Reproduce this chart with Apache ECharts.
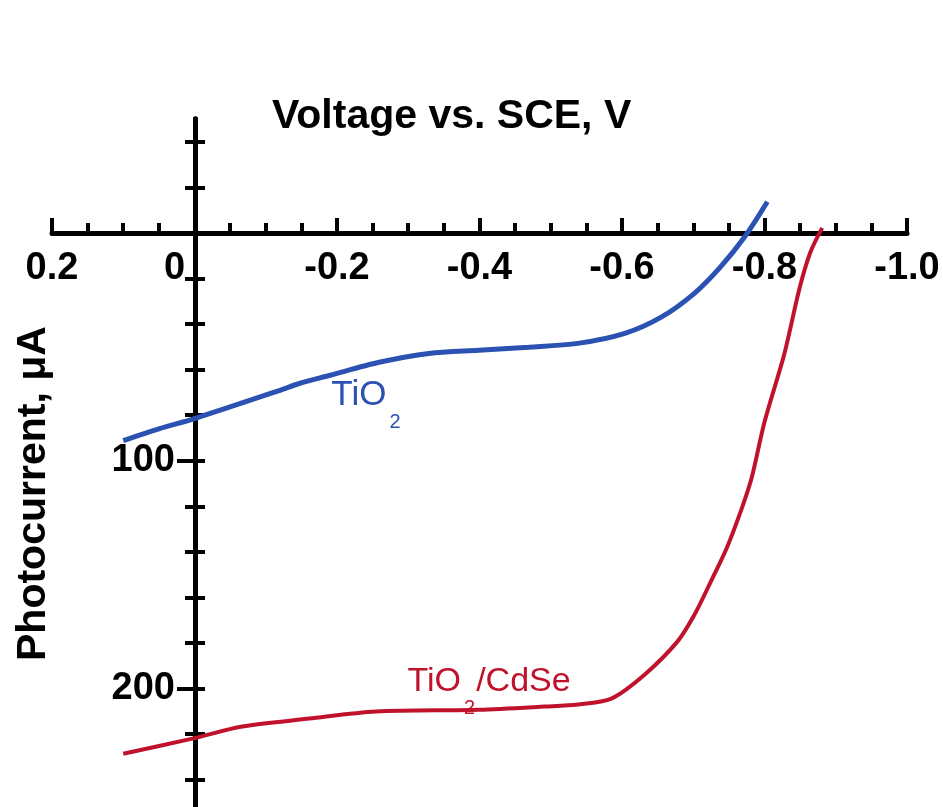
<!DOCTYPE html>
<html>
<head>
<meta charset="utf-8">
<script src="https://cdn.jsdelivr.net/npm/echarts@6/dist/echarts.min.js"></script>
<style>
html, body { margin: 0; padding: 0; background: #fff; }
#chart { width: 943px; height: 807px; }
</style>
</head>
<body>
<div id="chart"></div>
<script>
// 数据
var tio2Voltage = [0.100, 0.049, 0.000, -0.119, -0.147, -0.189, -0.259, -0.329, -0.399, -0.469, -0.538, -0.604, -0.655, -0.702, -0.738, -0.772, -0.804];
var tio2Current = [91.2, 85.9, 81.5, 69.2, 66.1, 62.6, 56.8, 52.9, 51.5, 50.2, 48.5, 44.1, 37.0, 26.4, 15.0, 1.8, -13.7];

var cdseVoltage = [0.100, 0.003, -0.067, -0.161, -0.255, -0.399, -0.492, -0.538, -0.585, -0.632, -0.678, -0.702, -0.724, -0.747, -0.768, -0.782, -0.800, -0.828, -0.849, -0.864, -0.881];
var cdseCurrent = [228.6, 222.0, 216.7, 213.2, 210.1, 209.3, 207.9, 207.0, 204.4, 193.8, 179.3, 167.4, 153.5, 138.3, 121.0, 107.5, 83.0, 52.9, 24.5, 8.8, -2.2];

var yMinorTicks = [-40, -20, 20, 40, 60, 80, 120, 140, 160, 180, 220, 240];
var yMajorTicks = [100, 200];

var X_MIN = -1.0, X_MAX = 0.2;
var Y_MIN = -50, Y_MAX = 252;

var BLUE = '#2b52b2';
var RED = '#c0122a';
var FONT = 'Liberation Sans, Arial, sans-serif';

function pairs(xs, ys) {
    var out = [];
    for (var i = 0; i < xs.length; i++) {
        out.push([xs[i], ys[i]]);
    }
    return out;
}

function hiddenX(grid) {
    return { type: 'value', gridIndex: grid, show: false, inverse: true, min: X_MIN, max: X_MAX,
             axisLine: { onZero: false }, splitLine: { show: false } };
}
function hiddenY(grid) {
    return { type: 'value', gridIndex: grid, show: false, inverse: true, min: Y_MIN, max: Y_MAX,
             axisLine: { onZero: false }, splitLine: { show: false } };
}
// 可见的y轴（放在 x=0 处）
function visY(tick, label) {
    return {
        type: 'value', gridIndex: 2, position: 'left', inverse: true, min: Y_MIN, max: Y_MAX,
        axisLine: { show: true, onZero: false, lineStyle: { color: '#000', width: 5 } },
        splitLine: { show: false },
        axisTick: tick,
        axisLabel: label || { show: false }
    };
}

var myChart = echarts.init(document.getElementById('chart'));

var option = {
    animation: false,
    backgroundColor: '#fff',
    grid: [
        // 数据区
        { left: 52, right: 36, top: 119, bottom: 0, containLabel: false, outerBoundsMode: 'none' },
        // x轴所在（底边在 y=0）
        { left: 52, right: 36, top: 119, height: 114, containLabel: false, outerBoundsMode: 'none' },
        // y轴所在（左边在 x=0）
        { left: 195, width: 1, top: 119, bottom: 0, containLabel: false, outerBoundsMode: 'none' }
    ],
    xAxis: [
        hiddenX(0),
        {
            type: 'value',
            gridIndex: 1,
            position: 'bottom',
            inverse: true,
            min: X_MIN,
            max: X_MAX,
            interval: 0.2,
            axisLine: { onZero: false, lineStyle: { color: '#000', width: 5 } },
            axisTick: { inside: true, length: 15, lineStyle: { color: '#000', width: 4 } },
            minorTick: { show: true, splitNumber: 4, length: 10, lineStyle: { color: '#000', width: 4 } },
            splitLine: { show: false },
            minorSplitLine: { show: false },
            axisLabel: {
                margin: 17,
                color: '#000',
                fontSize: 38,
                fontWeight: 'bold',
                fontFamily: FONT,
                formatter: function (v) {
                    if (Math.abs(v) < 1e-9) return '{z|0}';
                    return v.toFixed(1);
                },
                rich: {
                    z: { fontSize: 38, fontWeight: 'bold', fontFamily: FONT, color: '#000', padding: [0, 40, 0, 0] }
                }
            }
        },
        hiddenX(2)
    ],
    yAxis: [
        hiddenY(0),
        hiddenY(1),
        // 左侧小刻度 + 标签
        visY({ show: true, inside: false, length: 10, customValues: yMinorTicks, lineStyle: { color: '#000', width: 4 } },
             { show: true, margin: 20, customValues: yMajorTicks, color: '#000', fontSize: 38, fontWeight: 'bold', fontFamily: FONT }),
        // 右侧刻度
        visY({ show: true, inside: true, length: 10, customValues: yMinorTicks.concat(yMajorTicks), lineStyle: { color: '#000', width: 4 } }),
        // 大刻度（左侧更长）
        visY({ show: true, inside: false, length: 18, customValues: yMajorTicks, lineStyle: { color: '#000', width: 4 } })
    ],
    series: [
        {
            name: 'TiO2',
            type: 'line',
            xAxisIndex: 0,
            yAxisIndex: 0,
            showSymbol: false,
            smooth: 0.3,
            lineStyle: { color: BLUE, width: 5 },
            data: pairs(tio2Voltage, tio2Current),
            z: 5
        },
        {
            name: 'TiO2/CdSe',
            type: 'line',
            xAxisIndex: 0,
            yAxisIndex: 0,
            showSymbol: false,
            smooth: 0.3,
            lineStyle: { color: RED, width: 4 },
            data: pairs(cdseVoltage, cdseCurrent),
            z: 5
        }
    ]
};

myChart.setOption(option);

// 文字标注
var p1 = myChart.convertToPixel({ gridIndex: 0 }, [-0.192, 65]);
var p2 = myChart.convertToPixel({ gridIndex: 0 }, [-0.299, 190]);

function chem(main, after, color, size) {
    return {
        text: '{a|' + main + '}{b|2}' + (after ? '{c|' + after + '}' : ''),
        fill: color,
        rich: {
            a: { fontSize: size, lineHeight: size, verticalAlign: 'top', fill: color, fontFamily: FONT },
            b: { fontSize: 20, lineHeight: 54, verticalAlign: 'bottom', fill: color, fontFamily: FONT, padding: [0, 1, 0, 3] },
            c: { fontSize: size, lineHeight: size, verticalAlign: 'top', fill: color, fontFamily: FONT }
        }
    };
}

myChart.setOption({
    graphic: [
        {
            type: 'text',
            left: 272, top: 96,
            style: { text: 'Voltage vs. SCE, V', font: 'bold 41px ' + FONT, fill: '#000' }
        },
        {
            type: 'text',
            x: 13, y: 661,
            rotation: Math.PI / 2,
            style: { text: 'Photocurrent, \u03bcA', font: 'bold 41px ' + FONT, fill: '#000' }
        },
        {
            type: 'text',
            x: p1[0], y: p1[1] - 3,
            style: chem('TiO', '', BLUE, 35)
        },
        {
            type: 'text',
            x: p2[0], y: p2[1] - 1,
            style: chem('TiO', '/CdSe', RED, 34)
        }
    ]
});
</script>
</body>
</html>
